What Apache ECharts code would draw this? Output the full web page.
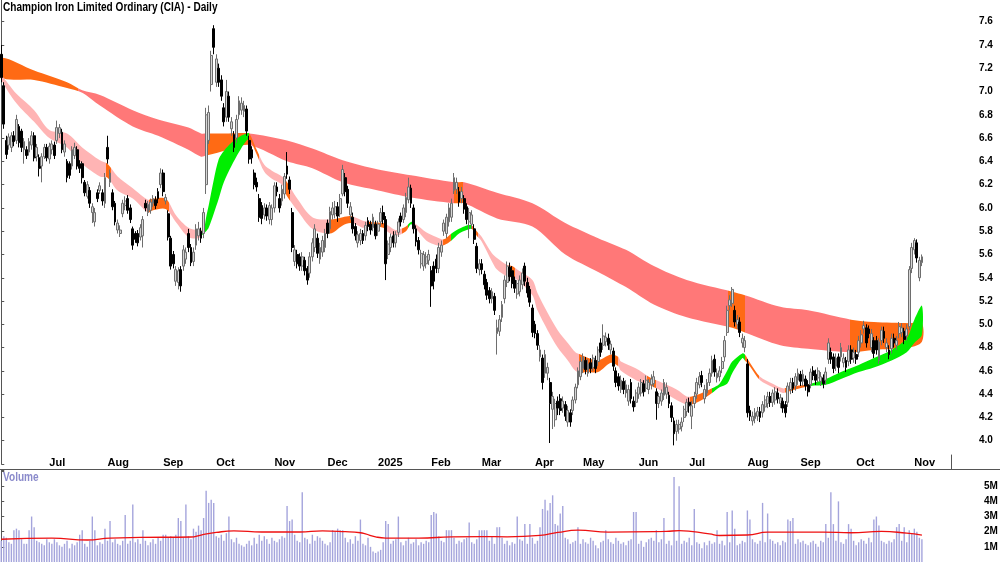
<!DOCTYPE html>
<html>
<head>
<meta charset="utf-8">
<title>Champion Iron Limited Ordinary (CIA) - Daily</title>
<script src="https://cdn.jsdelivr.net/npm/echarts@6/dist/echarts.min.js"></script>
<style>
  html, body { margin: 0; padding: 0; background: #fff; }
  #chart { width: 1000px; height: 562px; }
</style>
</head>
<body>
<div id="chart"></div>
<script>
const FONT = "'Liberation Sans', Arial, sans-serif";

// trading calendar (ASX)
const startDate = '2024-06-03';
const holidays = ['2024-06-10', '2024-12-25', '2024-12-26', '2025-01-01', '2025-01-27',
  '2025-04-18', '2025-04-21', '2025-04-25', '2025-06-09'];
const slotCount = 376; // 365 trading days + empty space on the right
const monthNames = ['Jan', 'Feb', 'Mar', 'Apr', 'May', 'Jun', 'Jul', 'Aug', 'Sep', 'Oct', 'Nov', 'Dec'];

// daily candles in cents: [open, close, low, high]
const ohlc = [
  // 0
  [732,712,708,740],[705,672,668,708],[658,646,642,662],[654,661,650,664],[652,662,648,665],[662,657,653,666],[658,676,655,680],[670,656,652,672],[666,652,648,668],[650,657,638,660],
  [650,645,642,653],[648,657,645,660],[654,662,650,666],[662,643,640,665],[644,652,640,655],[643,634,627,646],[636,644,622,647],[644,652,642,655],[652,643,640,655],[642,653,638,656],
  [650,655,646,658],[654,645,642,657],[658,669,655,675],[664,669,660,672],[665,650,647,668],[648,655,644,658],[640,626,622,642],[638,628,625,640],[636,650,633,653],[645,652,642,656],
  [650,636,633,653],[638,634,630,641],[638,626,621,640],[622,613,610,624],[610,620,608,623],[615,604,600,618],[596,601,587,604],[588,596,584,600],[613,608,605,616],[615,619,612,622],
  [613,606,602,616],[604,626,600,630],[652,642,638,662],[622,630,618,633],[613,601,598,616],[604,588,585,606],[581,587,578,590],[578,581,575,585],[595,604,592,607],[602,606,598,610],
  [608,598,595,611],[600,590,587,603],[582,568,564,584],[578,573,570,580],[578,570,567,581],[575,583,572,586],[576,590,566,593],[604,600,597,607],[596,603,593,606],[598,605,595,608],
  [604,608,601,611],[607,602,599,610],[614,608,604,617],[620,630,617,634],[630,614,610,633],[606,609,603,612],[595,575,572,598],[574,550,547,576],[560,552,548,563],[537,547,533,550],
  [536,546,530,549],[547,533,528,550],[550,564,546,568],[556,562,552,566],[578,566,562,582],[566,553,550,569],[554,562,550,566],[568,582,564,586],[576,582,572,588],[580,574,570,583],
  [578,596,574,600],[620,680,612,686],[658,682,655,688],[706,731,700,735],[754,738,732,757],[708,728,704,732],[720,708,704,724],[710,696,692,714],[686,674,670,690],[678,700,674,710],
  [696,678,674,700],[668,674,662,678],[663,652,648,666],[660,676,656,680],[680,692,676,696],[684,690,680,695],[683,688,678,692],[685,666,662,688],[658,642,638,662],[650,643,638,653],
  // 100
  [630,620,616,633],[622,618,614,626],[608,592,588,612],[602,591,586,605],[594,600,590,604],[600,593,589,603],[590,602,586,605],[590,600,585,603],[600,619,596,622],[618,614,610,622],
  [608,600,596,612],[606,616,602,620],[612,627,608,630],[636,629,625,648],[624,616,612,627],[596,566,562,600],[554,564,550,568],[560,552,548,564],[558,550,546,561],[550,558,546,562],
  [555,546,542,558],[548,538,534,550],[544,558,540,562],[558,570,554,574],[566,582,562,586],[574,561,557,578],[556,566,552,570],[562,572,558,576],[566,578,562,582],[587,578,574,590],
  [582,597,578,601],[594,600,590,605],[595,601,591,606],[601,593,588,605],[595,608,592,612],[612,633,610,637],[626,614,610,630],[616,604,600,619],[594,601,590,605],[592,582,578,596],
  [584,576,572,587],[570,577,566,580],[572,578,568,582],[578,572,569,581],[576,585,572,588],[589,584,580,592],[586,581,577,589],[583,592,580,595],[586,576,573,589],[580,586,576,589],
  [588,596,584,600],[596,590,586,602],[590,552,538,593],[560,569,556,572],[566,575,562,578],[576,570,566,580],[570,577,566,580],[579,588,575,591],[593,588,584,596],[590,600,587,603],
  [596,609,592,613],[607,618,604,626],[617,604,600,620],[600,582,578,603],[582,571,567,585],[572,564,560,575],[552,561,548,564],[550,560,546,563],[552,558,548,562],[555,560,551,564],
  [546,533,515,550],[550,537,530,554],[556,548,544,560],[548,566,544,570],[562,568,558,572],[580,587,576,590],[578,592,574,595],[588,600,584,604],[592,604,588,608],[615,626,612,630],
  [616,622,612,626],[614,605,601,618],[608,614,604,618],[608,599,595,611],[601,590,586,604],[588,596,574,600],[586,594,582,598],[582,573,569,586],[567,548,544,570],[547,552,542,556],
  [552,547,543,556],[543,534,530,546],[536,525,521,539],[529,522,518,532],[522,528,518,531],[524,512,508,527],[492,497,474,504],[494,504,490,508],[506,517,502,520],[522,538,518,542],
  // 200
  [536,550,532,554],[549,541,537,553],[546,535,531,550],[538,531,527,541],[526,535,522,538],[528,538,524,542],[534,544,530,548],[550,537,533,553],[536,527,523,540],[530,519,515,533],
  [514,493,489,517],[500,492,488,503],[492,482,478,495],[472,478,468,482],[471,450,444,474],[458,474,454,478],[458,463,452,467],[450,432,398,454],[427,438,410,442],[418,432,412,436],
  [434,428,422,438],[436,426,422,440],[428,434,424,438],[431,421,417,434],[416,426,412,430],[424,416,412,427],[426,435,422,438],[435,446,432,449],[448,460,445,463],[455,468,452,472],
  [462,472,458,475],[469,461,457,472],[458,466,455,470],[467,462,458,471],[463,471,460,474],[469,462,458,473],[468,478,464,481],[484,476,472,488],[482,490,478,500],[485,489,481,493],
  [488,482,478,492],[478,483,474,486],[477,464,460,480],[460,450,446,463],[455,447,443,458],[444,452,441,456],[451,444,440,454],[441,448,437,452],[434,444,430,448],[450,436,432,453],
  [434,429,425,438],[433,441,429,444],[440,446,436,450],[441,450,438,453],[449,442,438,452],[445,452,442,456],[444,450,440,453],[448,453,444,457],[449,455,446,460],[442,432,418,445],
  [432,438,428,441],[434,441,430,444],[439,450,435,453],[440,446,436,450],[439,432,428,442],[430,420,416,433],[417,406,396,420],[408,414,400,418],[410,414,406,418],[412,416,408,420],
  [420,427,416,430],[425,433,421,436],[433,430,424,437],[421,430,410,434],[432,438,428,442],[440,450,436,454],[448,455,445,459],[456,450,446,460],[436,444,432,448],[441,450,438,453],
  [450,458,447,462],[458,469,455,473],[470,459,455,474],[454,458,450,462],[455,460,451,464],[462,468,458,472],[472,486,468,490],[493,512,490,516],[516,521,512,525],[518,530,515,532],
  [512,502,498,516],[500,504,496,508],[502,493,489,506],[484,488,480,492],[480,486,476,490],[466,424,420,470],[426,421,417,430],[417,421,413,425],[419,424,415,428],[421,425,417,429],
  // 300
  [425,420,416,429],[424,431,420,434],[429,435,425,439],[432,438,428,442],[438,433,429,442],[433,441,429,444],[435,442,431,446],[441,436,432,445],[432,437,428,440],[434,428,424,437],
  [431,424,420,434],[433,447,429,450],[444,450,440,454],[450,445,441,454],[447,455,443,458],[452,458,448,462],[457,451,447,460],[451,457,447,461],[453,447,443,456],[448,442,438,452],
  [448,459,445,462],[460,456,452,464],[457,452,448,461],[454,460,450,463],[451,455,447,459],[454,449,445,457],[452,459,448,463],[470,484,466,488],[476,470,466,480],[472,462,458,475],
  [464,471,460,475],[472,463,458,475],[472,480,468,484],[467,471,463,475],[469,463,459,472],[468,478,464,482],[478,470,466,482],[471,476,467,480],[474,470,466,478],[476,486,472,490],
  [484,491,480,495],[496,499,492,503],[497,484,480,500],[496,492,488,499],[480,492,476,496],[486,475,471,489],[486,478,474,490],[469,485,466,488],[486,495,482,498],[494,488,484,498],
  [480,484,476,488],[478,474,470,482],[479,488,475,492],[488,484,480,492],[482,486,478,490],[492,498,488,502],[493,497,489,501],[494,487,483,497],[490,496,486,500],[498,547,495,550],
  [548,566,544,570],[564,572,560,574],[570,557,553,573],[540,555,537,558],[553,558,550,560]
];

// daily volume in units of 100k shares
const volume = [
  14,17,16,13,12,21,22,21,15,12, 12,21,30,23,14,13,12,11,15,13, 12,15,13,11,10,12,14,9,12,11,
  13,18,21,12,10,14,30,21,11,13, 12,22,14,27,13,15,12,11,14,31, 12,14,38,13,15,12,21,14,11,13,
  15,12,16,14,18,18,16,17,16,18, 29,27,16,38,17,15,22,20,24,21, 29,47,39,41,39,17,16,18,14,19,
  30,15,13,16,12,11,10,12,14,11,
  16,12,18,14,17,15,12,16,14,13, 15,17,16,37,27,28,18,14,13,46, 16,15,12,18,14,17,16,14,12,11,
  13,21,20,22,21,21,16,13,15,12, 17,14,28,12,11,16,10,7,6,7, 8,13,27,25,12,14,15,30,13,11,
  14,16,12,13,15,11,13,12,14,13, 31,33,32,17,14,13,21,21,21,16, 12,14,13,15,16,26,13,12,15,21,
  21,21,21,14,17,12,23,23,16,12,
  14,11,13,12,30,15,14,25,12,25, 16,12,14,23,35,41,34,39,44,25, 24,32,37,16,15,12,13,14,23,12,
  15,13,12,16,14,11,9,13,14,21, 15,13,12,16,14,12,13,11,14,15, 33,33,12,14,10,13,15,16,14,21,
  13,15,29,12,14,11,56,14,50,12, 14,13,16,11,35,13,12,9,13,11, 14,12,13,21,12,14,11,33,13,34,
  22,11,12,14,13,34,28,15,13,12,
  14,39,13,32,15,14,12,13,11,14, 13,28,27,29,12,15,13,14,12,11, 13,14,12,10,14,13,25,16,46,25,
  14,40,13,12,15,25,22,14,11,13, 15,14,12,16,13,28,30,24,14,13, 12,14,13,15,23,25,14,23,13,21,
  19,22,20,16,15
];

// volume moving average: [day, millions]
const volumeAvg = [
  [0,1.50],[20,1.58],[34,1.45],[43,1.58],[55,1.62],[75,1.65],[79,1.78],[85,1.95],[92,2.05],[103,1.98],
  [118,1.98],[127,2.05],[136,2.00],[142,1.93],[144,1.85],[148,1.66],[152,1.58],[165,1.58],[178,1.66],[190,1.68],
  [200,1.66],[213,1.75],[220,1.95],[228,2.10],[240,1.97],[263,2.02],[268,2.07],[280,1.85],[284,1.75],[295,1.78],
  [303,1.97],[325,1.97],[336,1.93],[348,2.02],[358,1.90],[364,1.78]
];

// long-term moving average band: [day, upper, lower]
const longBand = [
  [0,7.29,7.12],[13,7.18,7.10],[26,7.08,7.03],[32,7.01,6.99],[39,6.97,6.88],[52,6.84,6.70],[62,6.76,6.62],[74,6.69,6.50],
  [79,6.64,6.44],[81,6.64,6.45],[90,6.64,6.50],[98,6.64,6.54],[113,6.58,6.40],[123,6.51,6.34],[135,6.41,6.22],[149,6.33,6.15],
  [162,6.28,6.09],[179,6.22,6.04],[183,6.22,6.04],[196,6.13,5.91],[210,6.04,5.84],[223,5.87,5.60],[236,5.74,5.45],[247,5.64,5.32],
  [258,5.50,5.17],[271,5.38,5.06],[289,5.28,4.97],[294,5.25,4.93],[308,5.15,4.82],[319,5.12,4.79],[336,5.04,4.76],[345,5.02,4.78],
  [359,5.01,4.80],[364,5.01,4.85]
];

// short-term moving average band: [day, upper, lower]
const shortBand = [
  [0,7.14,7.10],[6,6.98,6.90],[13,6.84,6.74],[19,6.67,6.60],[26,6.64,6.52],[32,6.52,6.38],[39,6.41,6.27],[42,6.38,6.26],
  [46,6.27,6.15],[52,6.17,6.08],[58,6.07,5.96],[60,6.08,5.98],[65,6.08,5.99],[69,5.94,5.88],[74,5.83,5.75],[78,5.81,5.74],
  [80,5.82,5.78],[81,5.92,5.80],[82,6.02,5.83],[84,6.24,5.95],[86,6.42,6.08],[88,6.49,6.22],[91,6.56,6.36],[94,6.61,6.48],
  [96,6.63,6.55],[98,6.64,6.59],[101,6.50,6.46],[104,6.37,6.31],[107,6.32,6.25],[111,6.27,6.20],[113,6.22,6.10],[117,6.08,5.98],
  [123,5.92,5.82],[130,5.90,5.78],[135,5.92,5.85],[138,5.93,5.87],[141,5.91,5.85],[143,5.89,5.83],[146,5.88,5.84],[151,5.87,5.83],
  [153,5.85,5.79],[156,5.81,5.76],[160,5.84,5.80],[162,5.88,5.86],[164,5.86,5.82],[168,5.79,5.72],[172,5.75,5.68],[175,5.73,5.68],
  [178,5.78,5.72],[181,5.82,5.78],[184,5.85,5.81],[186,5.85,5.82],[188,5.80,5.76],[190,5.75,5.71],[194,5.61,5.54],[196,5.57,5.47],
  [200,5.51,5.41],[202,5.50,5.40],[204,5.47,5.38],[210,5.38,5.25],[212,5.27,5.12],[216,5.10,4.95],[220,4.95,4.80],[224,4.84,4.69],
  [227,4.76,4.60],[229,4.74,4.58],[231,4.72,4.59],[236,4.69,4.59],[241,4.74,4.67],[244,4.72,4.64],[245,4.68,4.60],[251,4.62,4.52],
  [256,4.55,4.48],[259,4.52,4.45],[260,4.51,4.44],[267,4.44,4.35],[271,4.38,4.31],[273,4.38,4.31],[277,4.41,4.35],[281,4.45,4.41],
  [284,4.49,4.46],[287,4.60,4.49],[289,4.68,4.58],[293,4.75,4.71],[294,4.74,4.69],[296,4.67,4.64],[300,4.55,4.52],[305,4.49,4.46],
  [309,4.45,4.41],[311,4.46,4.42],[314,4.47,4.44],[320,4.49,4.47],[326,4.53,4.48],[332,4.59,4.53],[339,4.65,4.59],[345,4.71,4.63],
  [352,4.78,4.69],[358,4.88,4.76],[361,5.04,4.84],[364,5.16,4.91]
];

// band colouring by day range: [from, to, colour key]
const longColours = [
  [0,31,'o'],[31,81,'r'],[81,99,'o'],[99,179.5,'r'],[179.5,183,'o'],[183,288,'r'],[288,294.5,'o'],[294.5,336,'r'],[336,376,'o']
];
const shortColours = [
  [0,42,'p'],[42,44,'o'],[44,59,'p'],[59,67,'o'],[67,80,'p'],[80,98.5,'g'],[98.5,102.5,'o'],[102.5,112,'p'],
  [112,114.5,'o'],[114.5,130,'p'],[130,139,'o'],[139,146,'p'],[146,152,'o'],[152,159,'p'],[159,161.5,'o'],[161.5,163.5,'g'],
  [163.5,175,'p'],[175,178.5,'o'],[178.5,186.5,'g'],[186.5,189,'o'],[189,201,'p'],[201,203.5,'o'],[203.5,229,'p'],[229,244.5,'o'],
  [244.5,256,'p'],[256,259.5,'o'],[259.5,273,'p'],[273,281.5,'o'],[281.5,294.5,'g'],[294.5,300,'o'],[300,310.5,'p'],[310.5,320,'o'],
  [320,376,'g']
];
const bandColour = { r: '#ff7878', o: '#ff6a14', p: '#ffb4b4', g: '#00ee00' };

// build the list of trading days
const dates = [];
let day = new Date(startDate + 'T00:00:00Z');
while (dates.length < slotCount) {
  const iso = day.toISOString().slice(0, 10);
  const wd = day.getUTCDay();
  if (wd !== 0 && wd !== 6 && holidays.indexOf(iso) < 0) dates.push(iso);
  day.setUTCDate(day.getUTCDate() + 1);
}

function isMonthStart(i) {
  return i > 0 && dates[i].slice(5, 7) !== dates[i - 1].slice(5, 7);
}

function monthLabel(value) {
  const m = +value.slice(5, 7);
  return m === 1 ? value.slice(0, 4) : monthNames[m - 1];
}

// filled band between upper and lower lines, coloured with hard gradient stops
function bandRenderer(points, colours) {
  return function (params, api) {
    const upper = points.map(p => api.coord([p[0], p[1]]));
    const lower = points.map(p => api.coord([p[0], p[2]])).reverse();
    const x0 = api.coord([-0.5, 5])[0];
    const x1 = api.coord([slotCount - 0.5, 5])[0];
    const stops = [];
    colours.forEach(s => {
      const a = (api.coord([s[0] - 0.5, 5])[0] - x0) / (x1 - x0);
      const b = (api.coord([s[1] - 0.5, 5])[0] - x0) / (x1 - x0);
      stops.push({ offset: Math.max(0, Math.min(1, a)), color: bandColour[s[2]] });
      stops.push({ offset: Math.max(0, Math.min(1, b)), color: bandColour[s[2]] });
    });
    return {
      type: 'polygon',
      shape: { points: upper.concat(lower), smooth: 0.3 },
      style: {
        fill: new echarts.graphic.LinearGradient(x0, 0, x1, 0, stops, true),
        stroke: null
      }
    };
  };
}

const candleData = ohlc.map(c => [c[0] / 100, c[1] / 100, c[2] / 100, c[3] / 100]);
const volumeData = volume.map(v => v * 100000);
const volumeAvgData = volumeAvg.map(p => [p[0], p[1] * 1000000]);

const chart = echarts.init(document.getElementById('chart'));

const option = {
  animation: false,
  backgroundColor: '#fff',
  grid: [
    { left: 0, right: 49, top: -1.58, height: 465.56, outerBoundsMode: 'none' },
    { left: 0, right: 49, top: 470, height: 92, outerBoundsMode: 'none' },
    { left: 0, right: 49, top: 455, height: 14, outerBoundsMode: 'none' }
  ],
  xAxis: [
    { type: 'category', gridIndex: 0, data: dates, show: false },
    { type: 'category', gridIndex: 1, data: dates, show: false },
    {
      type: 'category',
      gridIndex: 2,
      data: dates,
      position: 'top',
      axisLine: { lineStyle: { color: '#9a9a9a', width: 1 } },
      axisTick: {
        inside: true,
        length: 3,
        interval: (i) => isMonthStart(i),
        lineStyle: { color: '#555' }
      },
      axisLabel: {
        inside: true,
        interval: (i) => isMonthStart(i),
        formatter: (v) => monthLabel(v),
        align: 'left',
        margin: 2,
        fontFamily: FONT,
        fontSize: 11,
        fontWeight: 'bold',
        color: '#000'
      }
    },
    { type: 'value', gridIndex: 0, min: -0.5, max: slotCount - 0.5, show: false },
    { type: 'value', gridIndex: 1, min: -0.5, max: slotCount - 0.5, show: false }
  ],
  yAxis: [
    {
      type: 'value',
      gridIndex: 0,
      position: 'right',
      min: 3.8,
      max: 7.8,
      interval: 0.2,
      splitLine: { show: false },
      axisLine: { show: true, lineStyle: { color: '#555' } },
      axisTick: { show: true, length: 3, lineStyle: { color: '#555' } },
      axisLabel: {
        margin: 28,
        formatter: (v) => (v < 3.95 || v > 7.65) ? '' : v.toFixed(1),
        fontFamily: FONT,
        fontSize: 10,
        fontWeight: 'bold',
        color: '#000'
      }
    },
    {
      type: 'value',
      gridIndex: 1,
      position: 'right',
      min: 0,
      max: 6070000,
      interval: 1000000,
      splitLine: { show: false },
      axisLine: { show: true, lineStyle: { color: '#555' } },
      axisTick: { show: true, length: 3, lineStyle: { color: '#555' } },
      axisLabel: {
        margin: 33,
        formatter: (v) => (v >= 1000000 && v <= 5000000) ? (v / 1000000) + 'M' : '',
        fontFamily: FONT,
        fontSize: 10,
        fontWeight: 'bold',
        color: '#000'
      }
    },
    {
      type: 'value',
      gridIndex: 2,
      position: 'right',
      axisLine: { show: true, lineStyle: { color: '#555' } },
      axisTick: { show: false },
      axisLabel: { show: false },
      splitLine: { show: false }
    }
  ],
  graphic: [
    {
      type: 'text',
      x: 3,
      y: 2,
      scaleX: 0.84,
      style: {
        text: 'Champion Iron Limited Ordinary (CIA) - Daily',
        fill: '#000',
        font: 'bold 12px ' + FONT
      },
      z: 10
    },
    {
      type: 'line',
      shape: { x1: 0, y1: 469.5, x2: 1000, y2: 469.5 },
      style: { stroke: '#555', lineWidth: 1 },
      z: 10
    },
    {
      type: 'text',
      x: 3,
      y: 472,
      scaleX: 0.84,
      style: { text: 'Volume', fill: '#8a8acb', font: 'bold 12px ' + FONT },
      z: 10
    }
  ],
  series: [
    {
      name: 'Long band',
      type: 'custom',
      xAxisIndex: 3,
      yAxisIndex: 0,
      renderItem: bandRenderer(longBand, longColours),
      data: [[0, 5]],
      clip: true,
      silent: true,
      z: 1
    },
    {
      name: 'Short band',
      type: 'custom',
      xAxisIndex: 3,
      yAxisIndex: 0,
      renderItem: bandRenderer(shortBand, shortColours),
      data: [[0, 5]],
      clip: true,
      silent: true,
      z: 2
    },
    {
      name: 'CIA',
      type: 'candlestick',
      xAxisIndex: 0,
      yAxisIndex: 0,
      data: candleData,
      barWidth: '92%',
      itemStyle: {
        color: '#d6d6d6',
        color0: '#000',
        borderColor: '#6e6e6e',
        borderColor0: '#000',
        borderWidth: 1
      },
      z: 3
    },
    {
      name: 'Volume',
      type: 'bar',
      xAxisIndex: 1,
      yAxisIndex: 1,
      data: volumeData,
      barWidth: '55%',
      itemStyle: { color: '#a4a4dc' }
    },
    {
      name: 'Volume average',
      type: 'line',
      xAxisIndex: 4,
      yAxisIndex: 1,
      data: volumeAvgData,
      smooth: true,
      showSymbol: false,
      lineStyle: { color: '#ee1111', width: 1.3 },
      z: 4
    }
  ]
};

chart.setOption(option);
</script>
</body>
</html>
